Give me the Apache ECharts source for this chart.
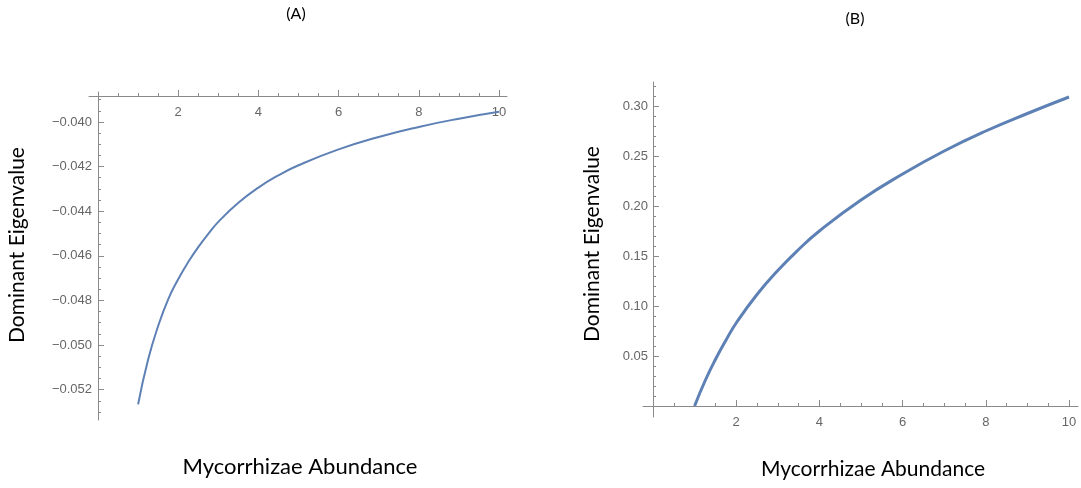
<!DOCTYPE html>
<html>
<head>
<meta charset="utf-8">
<title>Dominant Eigenvalue vs Mycorrhizae Abundance</title>
<script src="https://cdn.jsdelivr.net/npm/echarts@6/dist/echarts.min.js"></script>
<style>
  html, body { margin: 0; padding: 0; background: #ffffff; }
  #chart { width: 1081px; height: 488px; }
</style>
</head>
<body>
<div id="chart"></div>
<script>
// Panel (A): dominant eigenvalue, negative branch
const abundanceA = [1, 1.25, 1.5, 1.75, 2, 2.25, 2.5, 2.75, 3, 3.5, 4, 4.5, 5, 6, 7, 8, 9, 10];
const eigenA = [-0.05266, -0.05065, -0.04915, -0.04795, -0.04705, -0.04628, -0.04561, -0.04502, -0.04448, -0.04362, -0.04294, -0.04239, -0.04194, -0.04123, -0.04067, -0.04022, -0.03985, -0.03954];

// Panel (B): dominant eigenvalue, positive branch
const abundanceB = [1, 1.25, 1.5, 1.75, 2, 2.5, 3, 3.5, 4, 5, 6, 7, 8, 9, 10];
const eigenB = [0, 0.025, 0.0465, 0.0655, 0.083, 0.1115, 0.1355, 0.1565, 0.175, 0.206, 0.232, 0.255, 0.275, 0.2925, 0.309];

// Tick labels
const xMajorTicks = [2, 4, 6, 8, 10];
const yMajorTicksA = [-0.052, -0.050, -0.048, -0.046, -0.044, -0.042, -0.040];
const yMajorTicksB = [0.05, 0.10, 0.15, 0.20, 0.25, 0.30];

const panelTitles = ['(A)', '(B)'];
const xName = 'Mycorrhizae Abundance';
const yName = 'Dominant Eigenvalue';

// minor tick positions: multiples of step between k0*step and k1*step, skipping every `every`-th
function minorTicks(k0, k1, step, every) {
  const out = [];
  for (let k = k0; k <= k1; k++) {
    if (k % every !== 0) out.push(+(k * step).toFixed(6));
  }
  return out;
}
const xMinor = minorTicks(1, 20, 0.5, 4);
const yMinorA = minorTicks(-106, -78, 0.0005, 4);
const yMinorB = minorTicks(1, 32, 0.01, 5);

const AXIS = '#8a8a8a';
const LABEL = '#666666';
const LINE = '#5e81b5';
const tickFont = { fontFamily: 'Liberation Sans, Arial, sans-serif', fontSize: 13, color: LABEL };
const textFont = 'Lato, "Open Sans", sans-serif';
const minus = v => String(v).replace('-', '\u2212');

const gridA = { left: 89, top: 92, width: 418, height: 328, containLabel: false };
const gridB = { left: 643, top: 82, width: 435, height: 335, containLabel: false };

const xRangeA = { min: -0.2244, max: 10.1995 };
const yRangeA = { min: -0.053363, max: -0.038655 };
const xRangeB = { min: -0.2404, max: 10.216 };
const yRangeB = { min: -0.011, max: 0.324 };

function tickStyle(values, length, inside) {
  return { show: true, inside: inside, customValues: values, length: length, lineStyle: { color: AXIS, width: 1 } };
}
function caption(text, left, top, size) {
  return { text: text, left: left, top: top, textAlign: 'center', padding: 0,
    textStyle: { fontFamily: textFont, fontSize: size, fontWeight: 'normal', color: '#000' } };
}

const chart = echarts.init(document.getElementById('chart'), null, { renderer: 'canvas' });

chart.setOption({
  backgroundColor: '#ffffff',
  animation: false,
  title: [
    caption(panelTitles[0], 296, 6, 16),
    caption(panelTitles[1], 855, 11, 16),
    caption(xName, 300, 456, 22),
    caption(xName, 873, 459, 21)
  ],
  graphic: [
    { type: 'text', x: 17, y: 245, rotation: Math.PI / 2, silent: true,
      style: { text: yName, fontFamily: textFont, fontSize: 21, fill: '#000', align: 'center', verticalAlign: 'middle' } },
    { type: 'text', x: 592, y: 244, rotation: Math.PI / 2, silent: true,
      style: { text: yName, fontFamily: textFont, fontSize: 21, fill: '#000', align: 'center', verticalAlign: 'middle' } }
  ],
  grid: [gridA, Object.assign({}, gridA), gridB, Object.assign({}, gridB)],
  xAxis: [
    // (A): axis sits near the top, labels hang below it
    { type: 'value', gridIndex: 0, position: 'top', offset: -4, min: xRangeA.min, max: xRangeA.max,
      splitLine: { show: false },
      axisLine: { show: true, onZero: false, lineStyle: { color: AXIS, width: 1 } },
      axisTick: tickStyle(xMajorTicks, 6, false),
      axisLabel: Object.assign({ customValues: xMajorTicks, inside: true, margin: 10, formatter: v => String(v) }, tickFont) },
    { type: 'value', gridIndex: 1, position: 'top', offset: -4, min: xRangeA.min, max: xRangeA.max,
      splitLine: { show: false },
      axisLine: { show: false, onZero: false },
      axisTick: tickStyle(xMinor, 3, false),
      axisLabel: { show: false } },
    // (B): axis crosses at zero
    { type: 'value', gridIndex: 2, min: xRangeB.min, max: xRangeB.max,
      splitLine: { show: false },
      axisLine: { show: true, onZero: true, lineStyle: { color: AXIS, width: 1 } },
      axisTick: tickStyle(xMajorTicks, 6, true),
      axisLabel: Object.assign({ customValues: xMajorTicks, margin: -1, formatter: v => String(v) }, tickFont) },
    { type: 'value', gridIndex: 3, min: xRangeB.min, max: xRangeB.max,
      splitLine: { show: false },
      axisLine: { show: false, onZero: true },
      axisTick: tickStyle(xMinor, 3, true),
      axisLabel: { show: false } }
  ],
  yAxis: [
    { type: 'value', gridIndex: 0, min: yRangeA.min, max: yRangeA.max,
      splitLine: { show: false },
      axisLine: { show: true, onZero: true, lineStyle: { color: AXIS, width: 1 } },
      axisTick: tickStyle(yMajorTicksA, 6, true),
      axisLabel: Object.assign({ customValues: yMajorTicksA, margin: -3, formatter: v => minus(v.toFixed(3)) }, tickFont) },
    { type: 'value', gridIndex: 1, min: yRangeA.min, max: yRangeA.max,
      splitLine: { show: false },
      axisLine: { show: false, onZero: true },
      axisTick: tickStyle(yMinorA, 3, true),
      axisLabel: { show: false } },
    { type: 'value', gridIndex: 2, min: yRangeB.min, max: yRangeB.max,
      splitLine: { show: false },
      axisLine: { show: true, onZero: true, lineStyle: { color: AXIS, width: 1 } },
      axisTick: tickStyle(yMajorTicksB, 6, true),
      axisLabel: Object.assign({ customValues: yMajorTicksB, margin: -5, formatter: v => v.toFixed(2) }, tickFont) },
    { type: 'value', gridIndex: 3, min: yRangeB.min, max: yRangeB.max,
      splitLine: { show: false },
      axisLine: { show: false, onZero: true },
      axisTick: tickStyle(yMinorB, 3, true),
      axisLabel: { show: false } }
  ],
  series: [
    {
      type: 'line', xAxisIndex: 0, yAxisIndex: 0, smooth: 0.5, showSymbol: false,
      lineStyle: { color: LINE, width: 2 },
      data: abundanceA.map((x, i) => [x, eigenA[i]])
    },
    {
      type: 'line', xAxisIndex: 2, yAxisIndex: 2, smooth: 0.5, showSymbol: false,
      lineStyle: { color: LINE, width: 3 },
      data: abundanceB.map((x, i) => [x, eigenB[i]])
    }
  ]
});
</script>
</body>
</html>
